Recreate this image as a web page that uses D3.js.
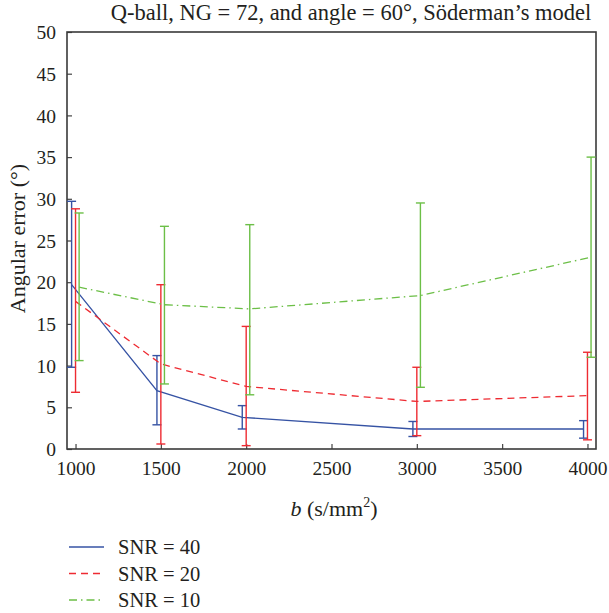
<!DOCTYPE html>
<html>
<head>
<meta charset="utf-8">
<script src="https://cdn.jsdelivr.net/npm/d3@7"></script>
<style>
  html, body { margin: 0; padding: 0; background: #fff; }
</style>
</head>
<body>
<svg id="chart" width="609" height="613"></svg>
<script>
// b-values (s/mm^2)
const bValues = [1000, 1500, 2000, 3000, 4000];

// Mean angular error and error-bar bounds for each SNR level
const snr40Mean = [19.7, 7.0, 3.8, 2.4, 2.4];
const snr40Low  = [9.8, 2.9, 2.4, 1.5, 1.3];
const snr40High = [29.7, 11.2, 5.2, 3.3, 3.4];

const snr20Mean = [17.7, 10.2, 7.5, 5.7, 6.4];
const snr20Low  = [6.8, 0.6, 0.4, 1.6, 1.1];
const snr20High = [28.8, 19.7, 14.7, 9.8, 11.6];

const snr10Mean = [19.4, 17.3, 16.8, 18.4, 23.0];
const snr10Low  = [10.6, 7.8, 6.5, 7.4, 11.0];
const snr10High = [28.3, 26.7, 26.9, 29.5, 35.0];

const seriesNames = ["SNR = 40", "SNR = 20", "SNR = 10"];
const xTicks = [1000, 1500, 2000, 2500, 3000, 3500, 4000];
const yTicks = [0, 5, 10, 15, 20, 25, 30, 35, 40, 45, 50];

const series = [
  { name: seriesNames[0], mean: snr40Mean, low: snr40Low, high: snr40High,
    color: "#3653a4", dash: null, shift: -23 },
  { name: seriesNames[1], mean: snr20Mean, low: snr20Low, high: snr20High,
    color: "#ee2b32", dash: "7,5", shift: 0 },
  { name: seriesNames[2], mean: snr10Mean, low: snr10Low, high: snr10High,
    color: "#6cbf47", dash: "8,4,1.5,4", shift: 21 }
];

const FONT = "'Liberation Serif', 'Times New Roman', serif";
const INK = "#231f20";

const svg = d3.select("#chart").attr("font-family", FONT);
const plot = { left: 67, right: 596, top: 32, bottom: 449 };

const x = d3.scaleLinear().domain([950, 4050]).range([plot.left, plot.right]);
const y = d3.scaleLinear().domain([0, 50]).range([plot.bottom, plot.top]);

function label(sel, size) {
  return sel.attr("font-family", FONT).style("font-family", FONT)
    .style("font-size", size + "px").attr("fill", INK);
}

// Title
label(svg.append("text"), 22.5)
  .attr("x", 351)
  .attr("y", 20)
  .attr("text-anchor", "middle")
  .text("Q-ball, NG = 72, and angle = 60°, Söderman’s model");

// Bottom axis with inward ticks
const xAxis = d3.axisBottom(x).tickValues(xTicks).tickSizeInner(-5).tickSizeOuter(0)
  .tickPadding(12).tickFormat(d3.format("d"));
const gx = svg.append("g").attr("transform", `translate(0,${plot.bottom})`).call(xAxis);
gx.select(".domain").remove();
gx.selectAll(".tick line").attr("stroke", "#444").attr("stroke-width", 1.2);
label(gx.selectAll(".tick text"), 19.5);

// Left axis with inward ticks
const yAxis = d3.axisLeft(y).tickValues(yTicks).tickSizeInner(-5).tickSizeOuter(0)
  .tickPadding(11);
const gy = svg.append("g").attr("transform", `translate(${plot.left},0)`).call(yAxis);
gy.select(".domain").remove();
gy.selectAll(".tick line").attr("stroke", "#444").attr("stroke-width", 1.2);
label(gy.selectAll(".tick text"), 19.5).attr("dy", "0.34em");

// Frame
svg.append("rect")
  .attr("x", plot.left).attr("y", plot.top)
  .attr("width", plot.right - plot.left).attr("height", plot.bottom - plot.top)
  .attr("fill", "none").attr("stroke", "#3a3a3a").attr("stroke-width", 1.6);

// Axis titles
label(svg.append("text"), 22)
  .attr("transform", `translate(25,${(plot.top + plot.bottom) / 2 - 2}) rotate(-90)`)
  .attr("text-anchor", "middle")
  .text("Angular error (°)");

const xl = label(svg.append("text"), 22)
  .attr("x", 334)
  .attr("y", 516)
  .attr("text-anchor", "middle");
xl.append("tspan").style("font-style", "italic").text("b");
xl.append("tspan").text(" (s/mm");
xl.append("tspan").attr("dy", -9).style("font-size", "14px").text("2");
xl.append("tspan").attr("dy", 9).text(")");

// Series: lines and error bars
const capHalf = 4.5;
series.forEach(s => {
  const pts = bValues.map((b, i) => ({ b: b + s.shift, m: s.mean[i], lo: s.low[i], hi: s.high[i] }));
  const g = svg.append("g");

  const bars = g.selectAll("g.bar").data(pts).join("g").attr("class", "bar")
    .attr("stroke", s.color).attr("stroke-width", 1.4).attr("fill", "none");
  bars.append("line")
    .attr("x1", d => x(d.b)).attr("x2", d => x(d.b))
    .attr("y1", d => y(d.lo)).attr("y2", d => y(d.hi));
  bars.append("line")
    .attr("x1", d => x(d.b) - capHalf).attr("x2", d => x(d.b) + capHalf)
    .attr("y1", d => y(d.lo)).attr("y2", d => y(d.lo));
  bars.append("line")
    .attr("x1", d => x(d.b) - capHalf).attr("x2", d => x(d.b) + capHalf)
    .attr("y1", d => y(d.hi)).attr("y2", d => y(d.hi));

  const line = d3.line().x(d => x(d.b)).y(d => y(d.m));
  g.append("path").datum(pts)
    .attr("d", line)
    .attr("fill", "none")
    .attr("stroke", s.color)
    .attr("stroke-width", 1.3)
    .attr("stroke-dasharray", s.dash);
});

// Legend
const legend = svg.append("g");
series.forEach((s, i) => {
  const ly = 547 + i * 26.5;
  legend.append("line")
    .attr("x1", 69).attr("x2", 104).attr("y1", ly).attr("y2", ly)
    .attr("stroke", s.color).attr("stroke-width", 1.4)
    .attr("stroke-dasharray", s.dash);
  label(legend.append("text"), 20.5)
    .attr("x", 118).attr("y", ly + 7)
    .text(s.name);
});
</script>
</body>
</html>
